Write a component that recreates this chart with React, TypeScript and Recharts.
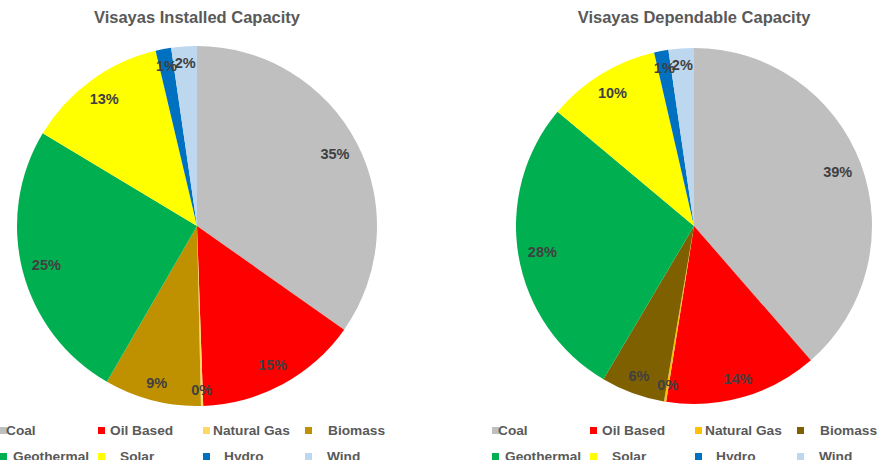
import { PieChart, Pie, Cell } from 'recharts'

const sources = ['Coal', 'Oil Based', 'Natural Gas', 'Biomass', 'Geothermal', 'Solar', 'Hydro', 'Wind']
const installed = [34.8, 14.7, 0.2, 8.7, 25.3, 12.7, 1.4, 2.3]
const dependable = [38.6, 13.9, 0.2, 5.8, 27.6, 10.3, 1.3, 2.3]

const installedColors = ['#bfbfbf', '#ff0000', '#ffd966', '#bf9000', '#00b050', '#ffff00', '#0070c0', '#bdd7ee']
const dependableColors = ['#bfbfbf', '#ff0000', '#ffc000', '#7f6000', '#00b050', '#ffff00', '#0070c0', '#bdd7ee']

const font = 'Arial, "Liberation Sans", sans-serif'
const RADIAN = Math.PI / 180

const toRows = (vals: number[]) => sources.map((name, i) => ({ name, value: vals[i] }))

function renderLabel(props: any) {
  const { cx, cy, midAngle, outerRadius, percent } = props
  const text = `${Math.round(percent * 100)}%`
  const cos = Math.cos(-midAngle * RADIAN)
  const sin = Math.sin(-midAngle * RADIAN)
  // keep the label box a fixed gap inside the rim, like Excel does
  const w = text.length * 9.5
  const h = 13
  const r = outerRadius - 9 - Math.abs(cos) * w / 2 - Math.abs(sin) * h / 2
  const x = cx + r * cos
  const y = cy + r * sin
  return (
    <text x={x} y={y} fill="#404040" fontSize={14.5} fontWeight="bold" fontFamily={font}
          textAnchor="middle" dominantBaseline="central">
      {text}
    </text>
  )
}

// legend columns: square x, text x (Excel-style uneven spacing)
const legendCols = [
  [{ sq: 0, tx: 6 }, { sq: 0, tx: 13 }],
  [{ sq: 98, tx: 110 }, { sq: 98, tx: 120 }],
  [{ sq: 203, tx: 213 }, { sq: 203, tx: 224 }],
  [{ sq: 305, tx: 328 }, { sq: 305, tx: 327 }],
]

function Legend({ left, colors }: { left: number; colors: string[] }) {
  return (
    <>
      {sources.map((name, i) => {
        const row = Math.floor(i / 4)
        const col = legendCols[i % 4][row]
        const y = 431 + row * 26
        return (
          <div key={name}>
            <div style={{ position: 'absolute', left: left + col.sq, top: y - 4, width: 7, height: 7, background: colors[i] }} />
            <div style={{ position: 'absolute', left: left + col.tx, top: y - 9, fontSize: 13.7, fontWeight: 'bold',
                          fontFamily: font, color: '#595959', lineHeight: '18px', whiteSpace: 'nowrap' }}>
              {name}
            </div>
          </div>
        )
      })}
    </>
  )
}

const titleStyle = {
  position: 'absolute' as const, top: 8, width: 400, textAlign: 'center' as const,
  fontSize: 16.5, fontWeight: 'bold', fontFamily: font, color: '#595959',
}

export default function App() {
  return (
    <div style={{ position: 'fixed', left: 0, top: 0, width: 882, height: 460, background: '#fff', overflow: 'hidden' }}>
      <PieChart width={882} height={460} margin={{ top: 0, right: 0, bottom: 0, left: 0 }}>
        <Pie data={toRows(installed)} dataKey="value" cx={197} cy={226} outerRadius={180}
             startAngle={90} endAngle={-270} stroke="none" label={renderLabel} labelLine={false}
             isAnimationActive={false}>
          {installedColors.map((c, i) => <Cell key={i} fill={c} />)}
        </Pie>
        <Pie data={toRows(dependable)} dataKey="value" cx={694} cy={226} outerRadius={178}
             startAngle={90} endAngle={-270} stroke="none" label={renderLabel} labelLine={false}
             isAnimationActive={false}>
          {dependableColors.map((c, i) => <Cell key={i} fill={c} />)}
        </Pie>
      </PieChart>
      <div style={{ ...titleStyle, left: -3 }}>Visayas Installed Capacity</div>
      <div style={{ ...titleStyle, left: 494 }}>Visayas Dependable Capacity</div>
      <Legend left={0} colors={installedColors} />
      <Legend left={492} colors={dependableColors} />
    </div>
  )
}
